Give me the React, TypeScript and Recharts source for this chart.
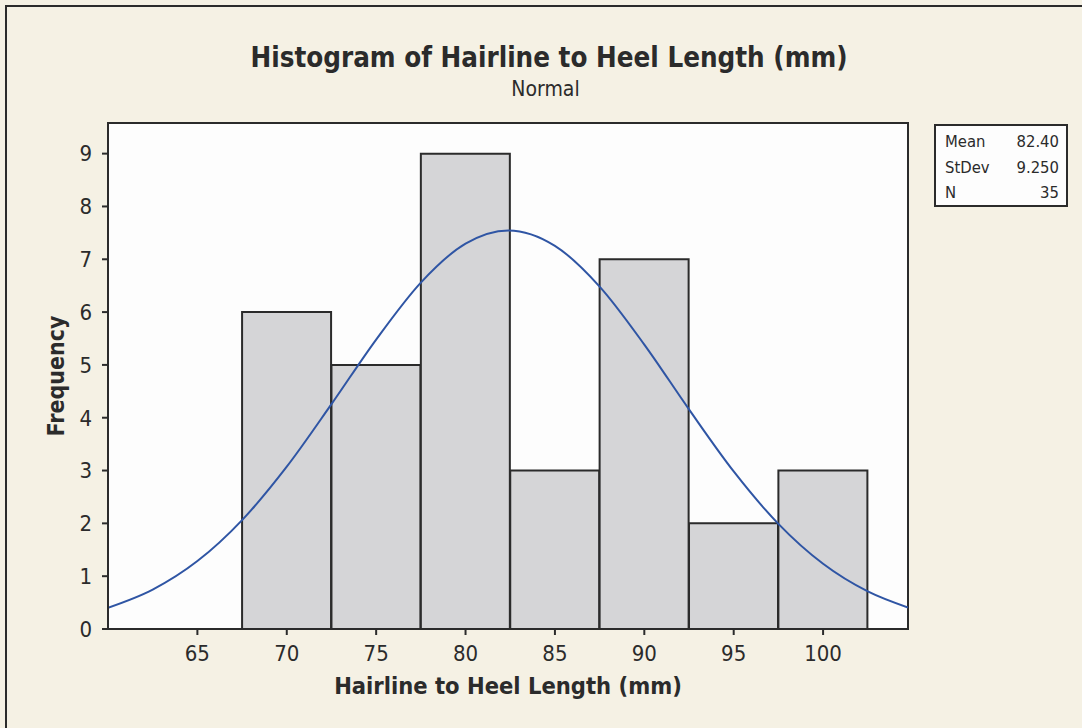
import React from "react";
import {
  ComposedChart,
  Bar,
  Line,
  XAxis,
  YAxis,
  CartesianGrid,
  ReferenceArea,
  Label,
} from "recharts";

// Histogram bins (bin centers, width 5)
const binCenters = [70, 75, 80, 85, 90, 95, 100];
const frequencies = [6, 5, 9, 3, 7, 2, 3];

// Fitted normal curve (x, frequency)
const curveX = [60, 62.5, 65, 67.5, 70, 72.5, 75, 77.5, 80, 82.4, 85, 87.5, 90, 92.5, 95, 97.5, 100, 102.5, 104.75];
const curveY = [0.402, 0.746, 1.286, 2.062, 3.073, 4.257, 5.48, 6.559, 7.297, 7.547, 7.255, 6.483, 5.385, 4.158, 2.984, 1.991, 1.235, 0.712, 0.407];

const xTicks = [65, 70, 75, 80, 85, 90, 95, 100];
const yTicks = [0, 1, 2, 3, 4, 5, 6, 7, 8, 9];
const xDomain = [60, 104.75];
const yDomain = [0, 9.58];

const statLabels = ["Mean", "StDev", "N"];
const statValues = ["82.40", "9.250", "35"];

const barData = binCenters.map((x, i) => ({ x, freq: frequencies[i] }));
const curveData = curveX.map((x, i) => ({ cx: x, fit: curveY[i] }));

const FONT = "'DejaVu Sans Condensed', 'DejaVu Sans', Verdana, sans-serif";
const BG = "#f5f1e4";
const INK = "#2b2b2b";

export default function App() {
  return (
    <div
      style={{
        position: "absolute",
        left: 0,
        top: 0,
        width: 1082,
        height: 728,
        background: BG,
        overflow: "hidden",
        fontFamily: FONT,
      }}
    >
      <div
        style={{
          position: "absolute",
          left: 5,
          top: 5,
          width: 1200,
          height: 800,
          borderLeft: `2px solid ${INK}`,
          borderTop: `2px solid ${INK}`,
        }}
      />
      <div
        style={{
          position: "absolute",
          left: 0,
          width: 1098,
          top: 40,
          textAlign: "center",
          fontSize: 27.5,
          fontWeight: "bold",
          color: INK,
          lineHeight: "34px",
        }}
      >
        Histogram of Hairline to Heel Length (mm)
      </div>
      <div
        style={{
          position: "absolute",
          left: 0,
          width: 1091,
          top: 76,
          textAlign: "center",
          fontSize: 21,
          color: INK,
          lineHeight: "26px",
        }}
      >
        Normal
      </div>
      <div style={{ position: "absolute", left: 0, top: 0 }}>
        <ComposedChart
          width={1082}
          height={728}
          data={barData}
          margin={{ top: 123, right: 174, bottom: 0, left: 0 }}
          barCategoryGap={0}
          barGap={0}
        >
          <CartesianGrid horizontal={false} vertical={false} fill="#fdfdfd" />
          <XAxis
            dataKey="x"
            type="number"
            domain={xDomain}
            ticks={xTicks}
            interval={0}
            allowDataOverflow
            height={99}
            tickSize={6}
            tickMargin={10}
            stroke={INK}
            axisLine={{ stroke: INK, strokeWidth: 2 }}
            tickLine={{ stroke: INK, strokeWidth: 2 }}
            tick={{ fontSize: 22, fill: INK, fontFamily: FONT }}
          >
            <Label
              value="Hairline to Heel Length (mm)"
              position="insideTop"
              offset={48}
              style={{ fontSize: 23.5, fontWeight: "bold", fill: INK, fontFamily: FONT }}
            />
          </XAxis>
          <XAxis
            xAxisId="fit"
            dataKey="cx"
            type="number"
            domain={xDomain}
            allowDataOverflow
            hide
          />
          <YAxis
            type="number"
            domain={yDomain}
            ticks={yTicks}
            interval={0}
            allowDataOverflow
            width={108}
            tickSize={6}
            tickMargin={10}
            stroke={INK}
            axisLine={{ stroke: INK, strokeWidth: 2 }}
            tickLine={{ stroke: INK, strokeWidth: 2 }}
            tick={{ fontSize: 22, fill: INK, fontFamily: FONT }}
          >
            <Label
              content={(props: any) => {
                const vb = props.viewBox || { x: 0, y: 123, width: 108, height: 506 };
                const cx = vb.x + 64;
                const cy = vb.y + vb.height / 2;
                return (
                  <text
                    x={cx}
                    y={cy}
                    transform={`rotate(-90, ${cx}, ${cy})`}
                    textAnchor="middle"
                    style={{ fontSize: 23, fontWeight: "bold", fill: INK, fontFamily: FONT }}
                  >
                    Frequency
                  </text>
                );
              }}
            />
          </YAxis>
          <Bar
            dataKey="freq"
            fill="#d5d5d7"
            stroke={INK}
            strokeWidth={2}
            isAnimationActive={false}
          />
          <Line
            xAxisId="fit"
            data={curveData}
            dataKey="fit"
            type="monotone"
            stroke="#2f55a4"
            strokeWidth={2}
            dot={false}
            activeDot={false}
            isAnimationActive={false}
          />
          <ReferenceArea
            x1={xDomain[0]}
            x2={xDomain[1]}
            y1={yDomain[0]}
            y2={yDomain[1]}
            fill="none"
            fillOpacity={0}
            stroke={INK}
            strokeWidth={2}
            ifOverflow="extendDomain"
          />
        </ComposedChart>
      </div>
      <div
        style={{
          position: "absolute",
          left: 934,
          top: 124,
          width: 134,
          height: 83,
          border: `2px solid ${INK}`,
          background: "#fdfdfd",
          padding: "3px 0",
          boxSizing: "border-box",
        }}
      >
        {statLabels.map((lab, i) => (
          <div
            key={lab}
            style={{
              display: "flex",
              justifyContent: "space-between",
              padding: "0 7px 0 9px",
              fontSize: 16.5,
              lineHeight: "25.5px",
              color: INK,
            }}
          >
            <span>{lab}</span>
            <span>{statValues[i]}</span>
          </div>
        ))}
      </div>
    </div>
  );
}
